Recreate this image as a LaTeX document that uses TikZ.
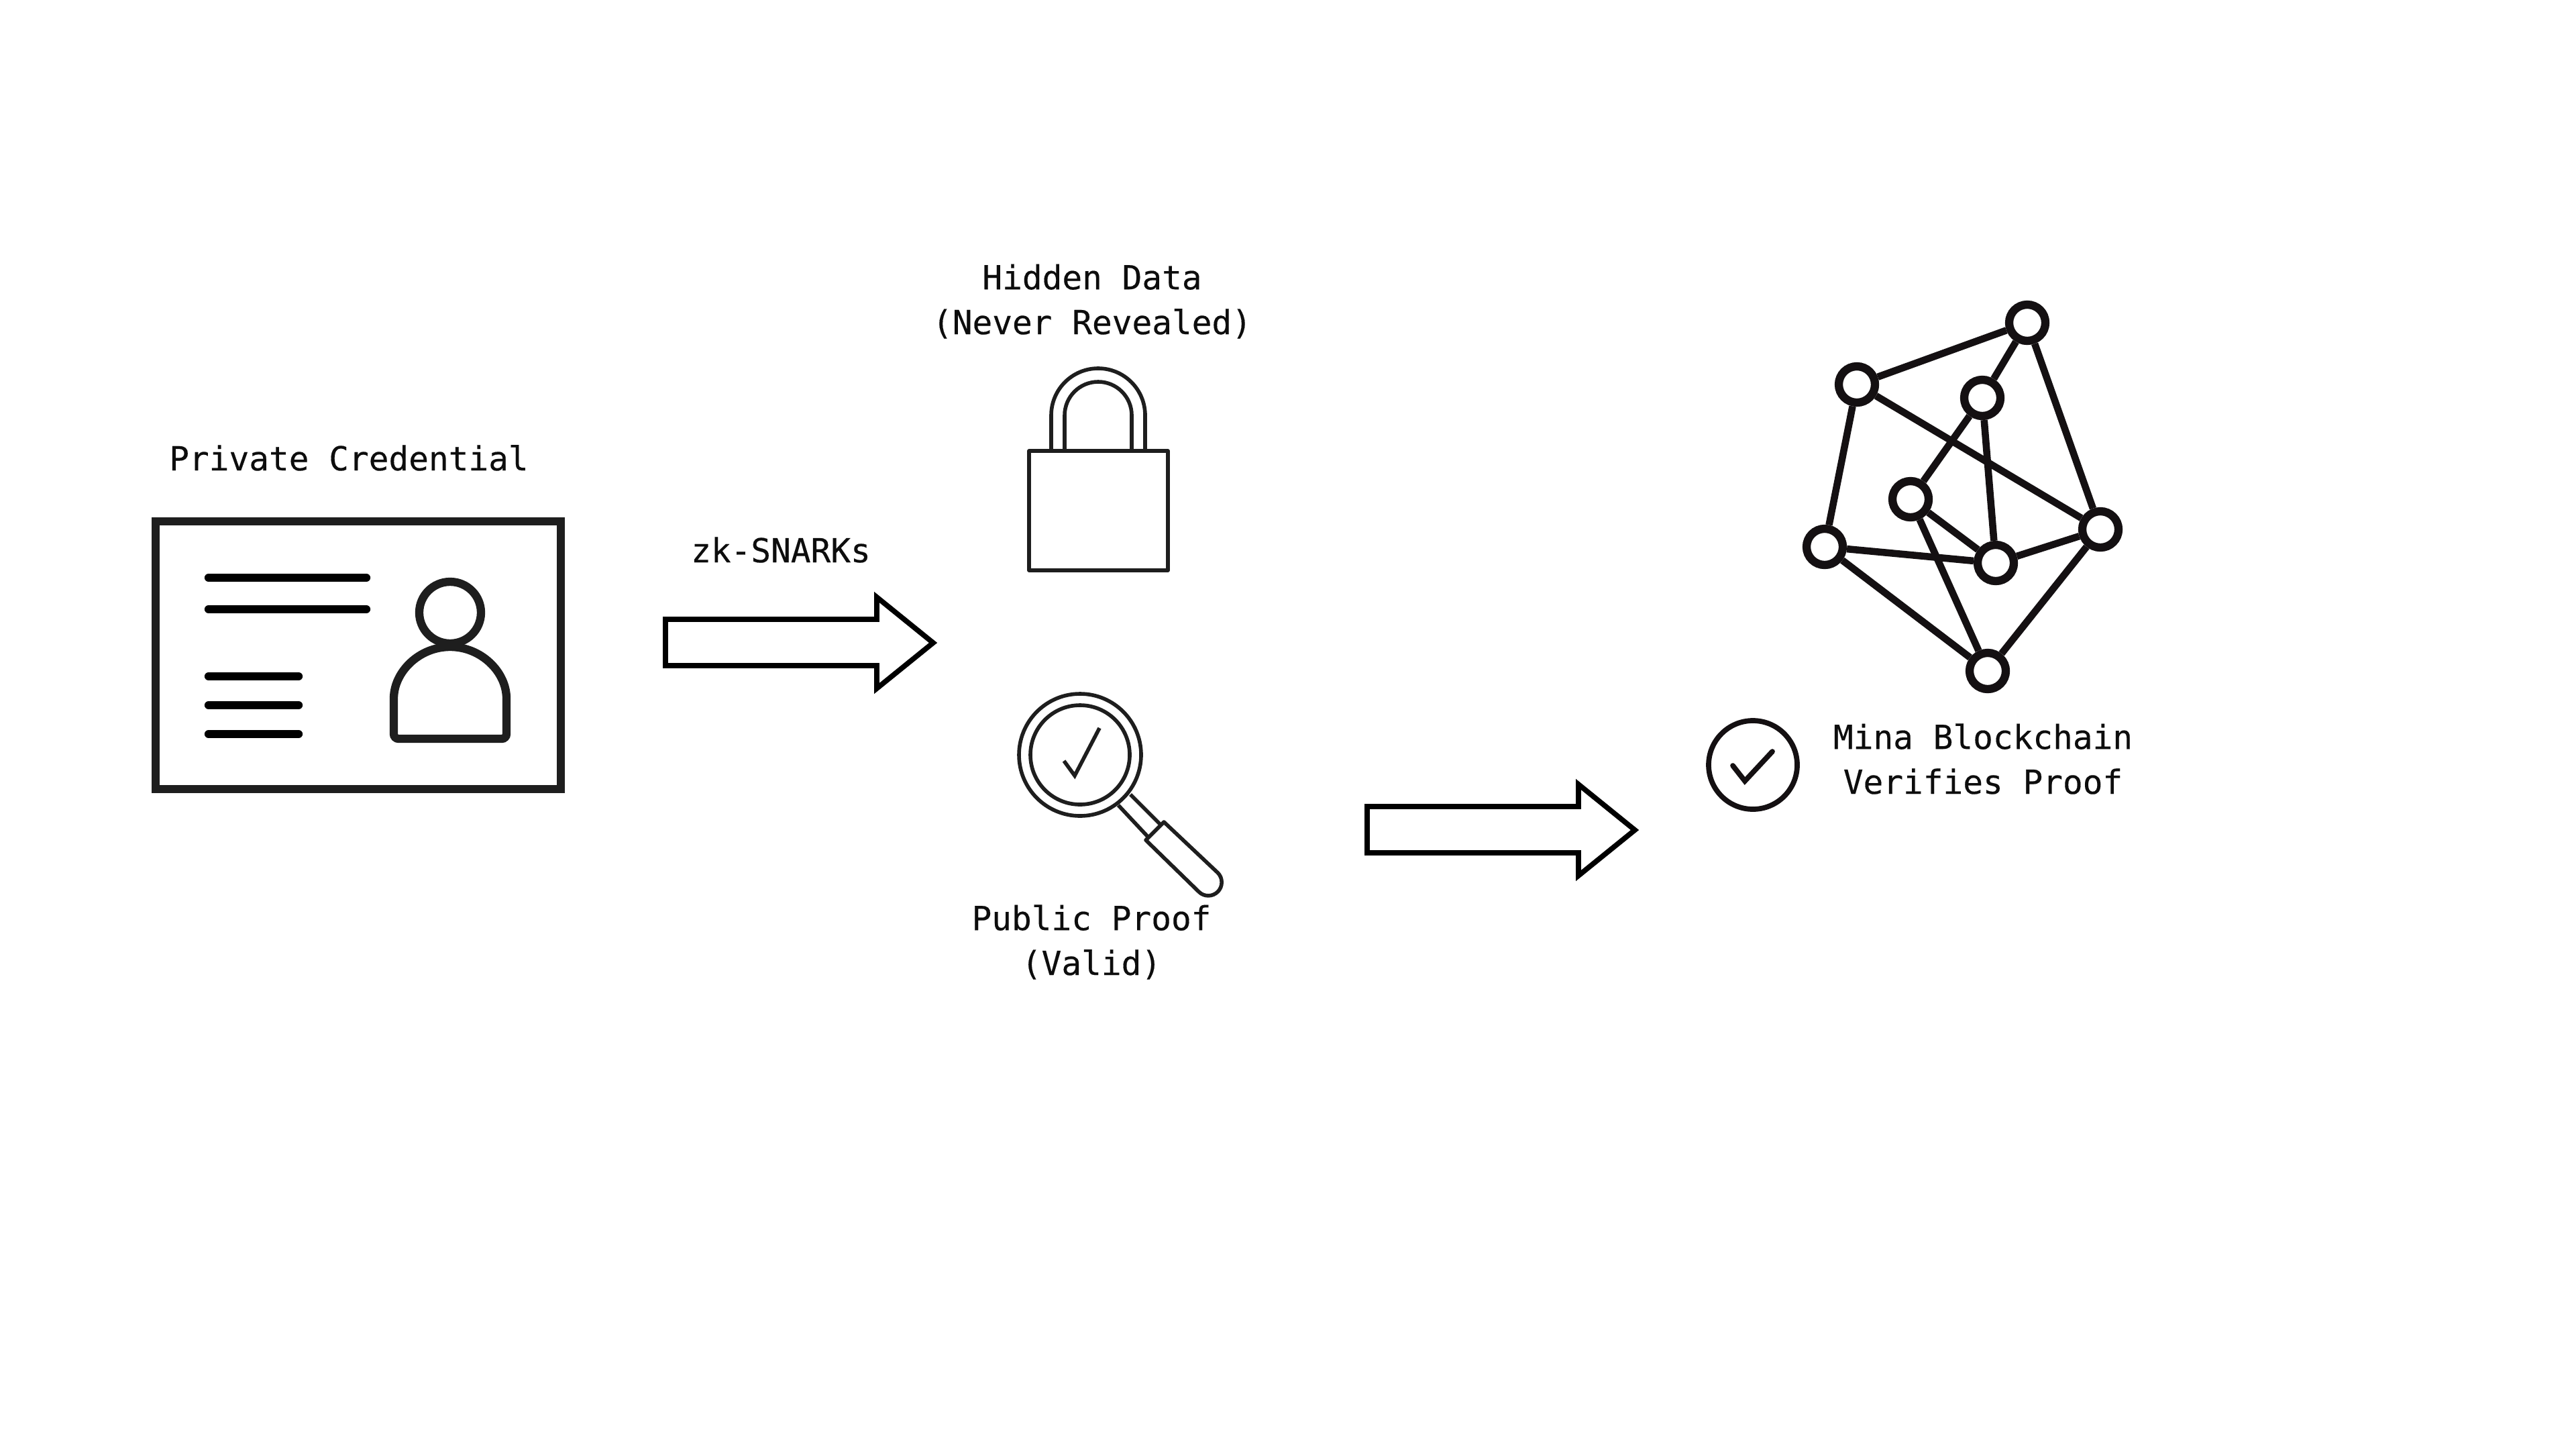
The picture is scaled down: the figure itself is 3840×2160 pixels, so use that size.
\documentclass[tikz,border=0pt]{standalone}
\usepackage{fontspec}
\setmainfont[FakeBold=0.3]{DejaVu Sans Mono}
\definecolor{inkdark}{HTML}{1E1E1E}
\definecolor{inknet}{HTML}{141012}
\tikzset{
    label text/.style={font=\fontsize{14.05}{19}\selectfont, align=center, inner sep=0pt, anchor=base, text=black!95},
    card line/.style={draw=black, line width=3.5pt, line cap=round},
    icon thin/.style={draw=inkdark, line width=1.6pt},
    block arrow/.style={draw=black, fill=white, line width=2.2pt, line join=miter},
    net node/.style={circle, draw=inknet, fill=white, line width=3.5pt, minimum size=0.54cm, inner sep=0pt},
    net edge/.style={draw=inknet, line width=3pt}
}
\begin{document}
\begin{tikzpicture}[x=0.01cm, y=-0.01cm]
    \useasboundingbox[fill=white] (0,0) rectangle (3840,2160);
    % credential card
    \draw[draw=inkdark, line width=3.5pt] (232,777) rectangle (836,1176);
    \node[label text] (credentiallabel) at (520,701) {Private Credential};
    \foreach \y in {861,908}
        \draw[card line] (311,\y) -- (546,\y);
    \foreach \y in {1008,1051,1094}
        \draw[card line] (311,\y) -- (445,\y);
    \draw[draw=inkdark, line width=3.5pt] (671,913) circle[radius=46];
    \draw[draw=inkdark, line width=3.5pt, rounded corners=2pt] (587,1101) -- (587,1048) arc[start angle=180, end angle=360, radius=84] -- (755,1101) -- cycle;
    % block arrows
    \foreach \dx/\dy in {0/0,1046/279}
        \draw[block arrow, shift={(\dx,\dy)}] (992,923) -- (1307,923) -- (1307,890) -- (1391,958) -- (1307,1026) -- (1307,992) -- (992,992) -- cycle;
    \node[label text] (snarklabel) at (1164,838) {zk-SNARKs};
    % lock
    \node[label text] (hiddenlabel) at (1628,498) {Hidden Data\\(Never Revealed)};
    \draw[icon thin] (1567,673) -- (1567,619) arc[start angle=180, end angle=360, radius=70] -- (1707,673);
    \draw[icon thin] (1587,673) -- (1587,619) arc[start angle=180, end angle=360, radius=50] -- (1687,673);
    \draw[icon thin, line join=round] (1534,672) rectangle (1741,850);
    % magnifier
    \draw[icon thin] (1610,1125) circle[radius=91];
    \draw[icon thin] (1610,1125) circle[radius=74];
    \draw[icon thin] (1586,1134) -- (1602,1156) -- (1639,1085);
    \draw[icon thin] (1685,1184) -- (1730,1229);
    \draw[icon thin] (1667,1200) -- (1712,1248);
    \draw[icon thin, line join=round] (1735,1225) -- (1708,1252) -- (1787,1329) arc[start angle=135, end angle=-45, radius=20] -- cycle;
    \node[label text] (prooflabel) at (1627,1453) {Public Proof\\(Valid)};
    % network
    \node[net node] (na) at (3022,481) {};
    \node[net node] (nb) at (2768,573) {};
    \node[net node] (nc) at (2955,593) {};
    \node[net node] (nd) at (2848,744) {};
    \node[net node] (ne) at (2720,815) {};
    \node[net node] (nf) at (2975,839) {};
    \node[net node] (ng) at (3131,789) {};
    \node[net node] (nh) at (2963,1000) {};
    \foreach \from/\to in {na/nb,na/nc,na/ng,nb/ne,nb/ng,nc/nd,nc/nf,nd/nf,nd/nh,ne/nf,ne/nh,nf/ng,ng/nh}
        \draw[net edge] (\from) -- (\to);
    % verified mark
    \draw[draw=inknet, line width=2.2pt] (2613,1140) circle[radius=66];
    \draw[draw=inknet, line width=2.2pt, line cap=round] (2583,1141) -- (2601,1164) -- (2642,1120);
    \node[label text] (minalabel) at (2956,1183) {Mina Blockchain\\Verifies Proof};
\end{tikzpicture}
\end{document}
